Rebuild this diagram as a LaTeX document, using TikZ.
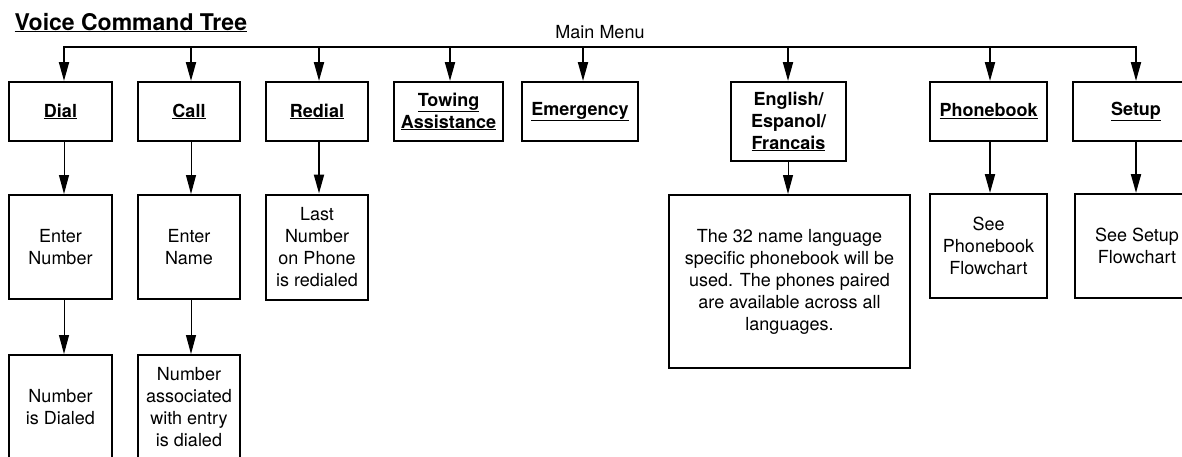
\documentclass[tikz,border=0pt]{standalone}
\usepackage{fontspec}
\setmainfont{TeX Gyre Heros}
\usetikzlibrary{arrows.meta}

\tikzset{
  box/.style={draw, line width=2pt, align=center, inner sep=0pt,
    font=\fontsize{18}{22}\selectfont},
  drop/.style={line width=2pt, -{Triangle[length=19pt,width=10pt,fill=black]}},
  thindrop/.style={line width=1pt, -{Triangle[length=19pt,width=10pt,fill=black]}},
}

\begin{document}
\begin{tikzpicture}[x=1pt, y=-1pt]

\useasboundingbox (0,0) rectangle (1182,456);

\draw (11,30) node[anchor=base west, font=\fontsize{23}{26}\selectfont\bfseries] (title) {\underline{Voice Command Tree}};

\draw (600,38) node[anchor=base, font=\fontsize{18}{22}\selectfont] (menu) {Main Menu};

% main menu line
\coordinate (m1) at (64,47);
\coordinate (m2) at (191,47);
\coordinate (m3) at (319,47);
\coordinate (m4) at (450,47);
\coordinate (m5) at (583,47);
\coordinate (m6) at (788,47);
\coordinate (m7) at (990,47);
\coordinate (m8) at (1136,47);

\draw[line width=2.5pt, line cap=rect] (m1) -- (m8);

% first row
\draw (60.5,111.5) node[box, minimum width=103, minimum height=59] (dial) {\bfseries\underline{Dial}};
\draw (189,111.5) node[box, minimum width=102, minimum height=59] (call) {\bfseries\underline{Call}};
\draw (317,111.5) node[box, minimum width=102, minimum height=59] (redial) {\bfseries\underline{Redial}};
\draw (448.5,111.5) node[box, minimum width=109, minimum height=59] (towing) {\bfseries\underline{Towing}\\\bfseries\underline{Assistance}};
\draw (580,111.5) node[box, minimum width=116, minimum height=59] (emergency) {\bfseries\underline{Emergency}};
\draw (788.5,121.5) node[box, minimum width=115, minimum height=79] (language) {\bfseries English/\\\bfseries Espanol/\\\bfseries\underline{Francais}};
\draw (988.5,111.5) node[box, minimum width=117, minimum height=59] (phonebook) {\bfseries\underline{Phonebook}};
\draw (1136,111.5) node[box, minimum width=126, minimum height=59] (setup) {\bfseries\underline{Setup}};

\draw[drop] (m1) -- (m1 |- dial.north);
\draw[drop] (m2) -- (m2 |- call.north);
\draw[drop] (m3) -- (m3 |- redial.north);
\draw[drop] (m4) -- (m4 |- towing.north);
\draw[drop] (m5) -- (m5 |- emergency.north);
\draw[drop] (m6) -- (m6 |- language.north);
\draw[drop] (m7) -- (m7 |- phonebook.north);
\draw[drop] (m8) -- (m8 |- setup.north);

% second row
\draw (60.5,247) node[box, minimum width=103, minimum height=104] (number) {Enter\\Number};
\draw (189,247) node[box, minimum width=102, minimum height=104] (name) {Enter\\Name};
\draw (317,247) node[box, minimum width=102, minimum height=105] (last) {Last\\Number\\on Phone\\is redialed};
\draw (789.5,281.5) node[box, minimum width=241, minimum height=173] (info) {The 32 name language\\specific phonebook will be\\used. The phones paired\\are available across all\\languages.};
\draw (988.5,246) node[box, minimum width=117, minimum height=104] (seebook) {See\\Phonebook\\Flowchart};
\draw (1137,246) node[box, minimum width=124, minimum height=104] (seesetup) {See Setup\\Flowchart};

\draw[thindrop] (m1 |- dial.south) -- (m1 |- number.north);
\draw[thindrop] (m2 |- call.south) -- (m2 |- name.north);
\draw[drop] (m3 |- redial.south) -- (m3 |- last.north);
\draw[thindrop] (m6 |- language.south) -- (m6 |- info.north);
\draw[drop] (m7 |- phonebook.south) -- (m7 |- seebook.north);
\draw[drop] (m8 |- setup.south) -- (m8 |- seesetup.north);

% third row
\draw (60.5,407.5) node[box, minimum width=103, minimum height=105] (dialed) {Number\\is Dialed};
\draw (189,407.5) node[box, minimum width=102, minimum height=105] (assoc) {Number\\associated\\with entry\\is dialed};

\draw[thindrop] (m1 |- number.south) -- (m1 |- dialed.north);
\draw[thindrop] (m2 |- name.south) -- (m2 |- assoc.north);

\end{tikzpicture}
\end{document}
